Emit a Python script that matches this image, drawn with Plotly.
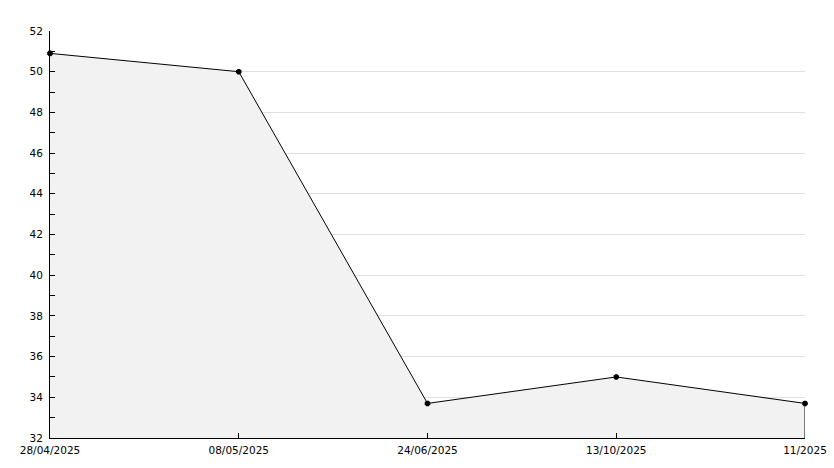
import plotly.graph_objects as go

dates = ["28/04/2025", "08/05/2025", "24/06/2025", "13/10/2025", "11/2025"]
values = [50.9, 50.0, 33.7, 35.0, 33.7]
y_ticks = [32, 34, 36, 38, 40, 42, 44, 46, 48, 50, 52]

idx = list(range(len(dates)))
y_min, y_max = y_ticks[0], y_ticks[-1]

fig = go.Figure()
fig.add_trace(go.Scatter(
    x=idx, y=values, mode="lines+markers",
    fill="tozeroy", fillcolor="#f2f2f2",
    line=dict(color="black", width=1),
    marker=dict(symbol="octagon", size=6, color="black"),
    cliponaxis=False,
    hoverinfo="skip", showlegend=False,
))
# closing edge of the area at the right end
fig.add_trace(go.Scatter(
    x=[idx[-1], idx[-1]], y=[y_min, values[-1]], mode="lines",
    line=dict(color="black", width=1), hoverinfo="skip", showlegend=False,
))

fig.update_layout(
    width=834, height=468,
    margin=dict(l=50, r=29, t=31, b=30, autoexpand=False),
    paper_bgcolor="white", plot_bgcolor="white",
    font=dict(family="DejaVu Sans", size=10.5, color="black"),
    showlegend=False,
)
fig.update_xaxes(
    range=[0, len(dates) - 1], tickvals=idx, ticktext=dates,
    showgrid=False, zeroline=False, automargin=False,
    showline=True, linecolor="black", linewidth=1,
    ticks="inside", ticklen=5, tickcolor="black", ticklabelstandoff=2,
)
fig.update_yaxes(
    range=[y_min, y_max], tickvals=y_ticks,
    showgrid=True, gridcolor="#e0e0e0", gridwidth=1, zeroline=False, automargin=False,
    showline=True, linecolor="black", linewidth=1,
    ticks="inside", ticklen=5, tickcolor="black", ticklabelstandoff=4,
    minor=dict(ticks="inside", ticklen=5, dtick=1, tickcolor="black", showgrid=False),
)
fig.write_html(
    "out.html",
    config={"displayModeBar": False},
    post_script="document.body.style.margin='0';document.body.style.overflow='hidden';",
)
